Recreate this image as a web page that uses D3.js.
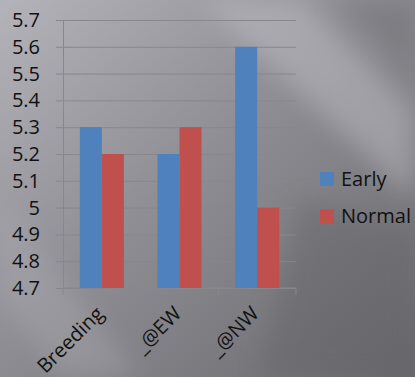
<!DOCTYPE html>
<html>
<head>
<meta charset="utf-8">
<script src="https://cdn.jsdelivr.net/npm/d3@7"></script>
<style>
  html, body { margin: 0; padding: 0; background: #8a898e; }
  svg { display: block; font-family: "Open Sans", sans-serif; }
</style>
</head>
<body>
<svg id="chart"></svg>
<script>
// data
const categories = ["Breeding", "_@EW", "_@NW"];
const seriesNames = ["Early", "Normal"];
const earlyValues = [5.3, 5.2, 5.6];
const normalValues = [5.2, 5.3, 5.0];
const yTicks = [4.7, 4.8, 4.9, 5.0, 5.1, 5.2, 5.3, 5.4, 5.5, 5.6, 5.7];
const colors = ["#4f81bd", "#c0504d"];

const svgWidth = 415, svgHeight = 377;
const margin = { top: 20, right: 119, bottom: 89, left: 63 };
const width = svgWidth - margin.left - margin.right;
const height = svgHeight - margin.top - margin.bottom;

const svg = d3.select("#chart").attr("width", svgWidth).attr("height", svgHeight);

// background: grey gradient with diagonal light streaks
const defs = svg.append("defs");
const bg = defs.append("linearGradient").attr("id", "bg")
  .attr("x1", "0").attr("y1", "0").attr("x2", "1").attr("y2", "1");
bg.append("stop").attr("offset", "0").attr("stop-color", "#b4b3b9");
bg.append("stop").attr("offset", "0.45").attr("stop-color", "#8f8e94");
bg.append("stop").attr("offset", "1").attr("stop-color", "#69686d");
defs.append("filter").attr("id", "blur").attr("x", "-50%").attr("y", "-50%")
  .attr("width", "200%").attr("height", "200%")
  .append("feGaussianBlur").attr("stdDeviation", 12);

svg.append("rect").attr("width", svgWidth).attr("height", svgHeight).attr("fill", "url(#bg)");
// streaks
svg.append("polygon").attr("points", "200,0 300,0 415,110 415,200")
  .attr("fill", "#c2c1c7").attr("opacity", 0.45).attr("filter", "url(#blur)");
svg.append("polygon").attr("points", "330,0 415,0 415,70")
  .attr("fill", "#6a696e").attr("opacity", 0.4).attr("filter", "url(#blur)");
svg.append("polygon").attr("points", "0,200 0,300 60,377 140,377")
  .attr("fill", "#b0afb5").attr("opacity", 0.35).attr("filter", "url(#blur)");
svg.append("polygon").attr("points", "300,200 415,230 415,377 260,377")
  .attr("fill", "#5f5e63").attr("opacity", 0.35).attr("filter", "url(#blur)");

const g = svg.append("g").attr("transform", `translate(${margin.left},${margin.top})`);

// scales
const y = d3.scaleLinear().domain([4.7, 5.7]).range([height, 0]);
const x0 = d3.scaleBand().domain(categories).range([0, width])
  .paddingInner(0.433).paddingOuter(0.2165);
const x1 = d3.scaleBand().domain(seriesNames).range([0, x0.bandwidth()]);

const gridColor = "#88878c";

// y axis with gridlines
const yAxis = d3.axisLeft(y).tickValues(yTicks).tickSize(-width).tickSizeOuter(0)
  .tickPadding(23).tickFormat(d => String(+d.toFixed(1)));
const yg = g.append("g").call(yAxis);
yg.select(".domain").attr("stroke", gridColor);
yg.selectAll(".tick line").attr("x1", -7).attr("stroke", gridColor);
yg.selectAll(".tick text").attr("font-size", 20).attr("fill", "#111")
  .attr("font-family", "Open Sans, sans-serif");

// x axis
const xg = g.append("g").attr("transform", `translate(0,${height})`);
xg.append("line").attr("x1", 0).attr("x2", width).attr("stroke", gridColor);
const bounds = [0].concat(categories.map(c => x0(c) + x0.bandwidth() + x0.step() * x0.paddingInner() / 2));
xg.selectAll(".xtick").data(bounds).enter().append("line")
  .attr("x1", d => d).attr("x2", d => d).attr("y1", 0).attr("y2", 7)
  .attr("stroke", gridColor);
xg.selectAll(".xlabel").data(categories).enter().append("text")
  .attr("transform", d => `translate(${x0(d) + x0.bandwidth() / 2 + 3},${27}) rotate(-45)`)
  .attr("text-anchor", "end")
  .attr("font-size", 20).attr("fill", "#111")
  .text(d => d);

// bars
const groups = g.selectAll(".grp").data(categories).enter().append("g")
  .attr("transform", d => `translate(${x0(d)},0)`);
groups.selectAll("rect")
  .data((d, i) => [
    { key: "Early", value: earlyValues[i] },
    { key: "Normal", value: normalValues[i] }
  ])
  .enter().append("rect")
  .attr("x", d => x1(d.key))
  .attr("y", d => y(d.value))
  .attr("width", x1.bandwidth())
  .attr("height", d => height - y(d.value))
  .attr("fill", (d, i) => colors[i]);

// legend
const legend = svg.append("g").attr("transform", "translate(320,172)");
seriesNames.forEach((name, i) => {
  const item = legend.append("g").attr("transform", `translate(0,${i * 37.5})`);
  item.append("rect").attr("width", 14).attr("height", 14).attr("fill", colors[i]);
  item.append("text").attr("x", 21).attr("y", 13.5)
    .attr("font-size", 20).attr("fill", "#111").text(name);
});
</script>
</body>
</html>
